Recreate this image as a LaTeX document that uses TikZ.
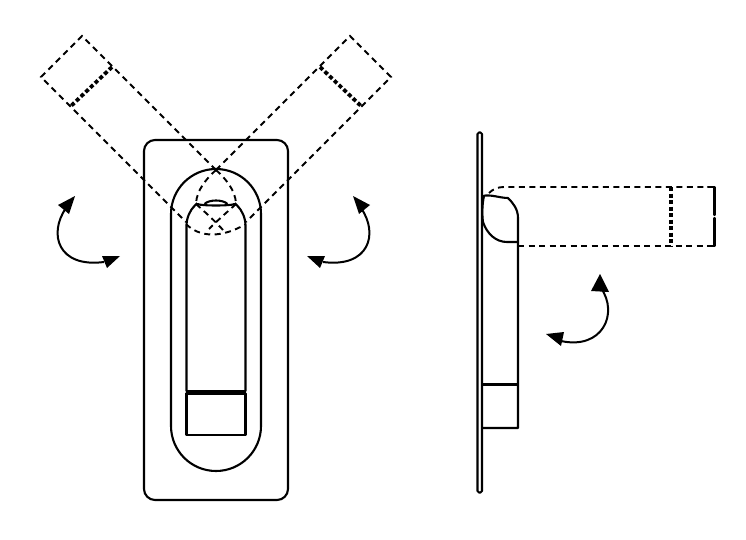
\documentclass[tikz,border=0pt]{standalone}
\tikzset{
  solidline/.style={draw=black,line width=2.1pt,line join=round,line cap=round},
  dashline/.style={draw=black,line width=1.9pt,dash pattern=on 6pt off 4.5pt},
  thickdash/.style={draw=black,line width=3.8pt,dash pattern=on 4pt off 2.5pt},
  thinarrow/.style={draw=black,line width=2pt},
  headfill/.style={fill=black,draw=none}
}
\begin{document}
\begin{tikzpicture}[x=1pt,y=-1pt]
\useasboundingbox[fill=white] (0,0) rectangle (746,540);
% front view plate and bodies
\draw[solidline,rounded corners=11pt] (144,140) rectangle (288,500);
\draw[solidline] (171,214) arc[start angle=180,end angle=360,radius=45] -- (261,426)
  arc[start angle=0,end angle=180,radius=45] -- cycle;
\draw[solidline] (186.5,391) -- (186.5,226) arc[start angle=180,end angle=360,radius=29.5] -- (245.5,391);
\draw[line width=3pt] (186,391) -- (246,391);
\draw[solidline] (186.5,393.5) rectangle (245.5,435);
% handle grip at top
\fill[white] (197,192) rectangle (235,203);
\draw[solidline] (196.5,204) .. controls (203,206) and (229,206) .. (235.5,204);
\draw[solidline] (205,203.5) .. controls (210,199.5) and (222,199.5) .. (227,203.5);
% left ghost
\draw[dashline] (216,170) -- (82,36) -- (41,77) -- (186,222);
\draw[thickdash] (112,67) -- (71,106);
\draw[dashline] (216,170) .. controls (226,179) and (235,190) .. (236,203);
\draw[dashline] (236,204) .. controls (226,213) and (217,221) .. (209,229);
\draw[dashline] (186,224) .. controls (200,238) and (222,238) .. (246,224);
% right ghost
\draw[dashline] (216,170) -- (350,36) -- (391,77) -- (246,222);
\draw[thickdash] (320,67) -- (361,106);
\draw[dashline] (216,170) .. controls (206,179) and (197,190) .. (196,203);
\draw[dashline] (196,204) .. controls (206,213) and (215,221) .. (223,230);
% left arrow
\draw[thinarrow] (66,208) .. controls (48,234) and (58,268) .. (104,262);
\fill[headfill] (75,196) -- (58,205) -- (69,214) -- cycle;
\fill[headfill] (120,256) -- (102,256) -- (107,268) -- cycle;
% right arrow
\draw[thinarrow] (361,208) .. controls (379,234) and (369,268) .. (323,262);
\fill[headfill] (353,196) -- (370,205) -- (359,214) -- cycle;
\fill[headfill] (307,256) -- (325,256) -- (320,268) -- cycle;
% side view
\draw[solidline,rounded corners=1.5pt] (477.5,132.5) rectangle (482,492.5);
\draw[solidline] (483,196) .. controls (490,194) and (500,198) .. (508,198)
  .. controls (513,203) and (518,209) .. (518,218) -- (518,428) -- (483,428);
\draw[solidline] (484,196) .. controls (482,205) and (482,215) .. (483,222)
  .. controls (487,234) and (496,242) .. (507,242) -- (517,242);
\draw[line width=2.8pt] (483,384.5) -- (518,384.5);
\draw[dashline] (489,193) .. controls (493,189) and (498,187) .. (504,187) -- (714,187);
\draw[dashline] (518,246) -- (714,246);
\draw[solidline] (708,187) -- (714.5,187) -- (714.5,215);
\draw[solidline] (714.5,218) -- (714.5,246) -- (708,246);
\draw[thickdash] (671,187) -- (671,246);
% side arrow
\draw[thinarrow] (601,288) .. controls (619,314) and (602,350) .. (561,341);
\fill[headfill] (600,274) -- (591,291) -- (609,292) -- cycle;
\fill[headfill] (546,334) -- (564,332) -- (561,346) -- cycle;
\end{tikzpicture}
\end{document}
